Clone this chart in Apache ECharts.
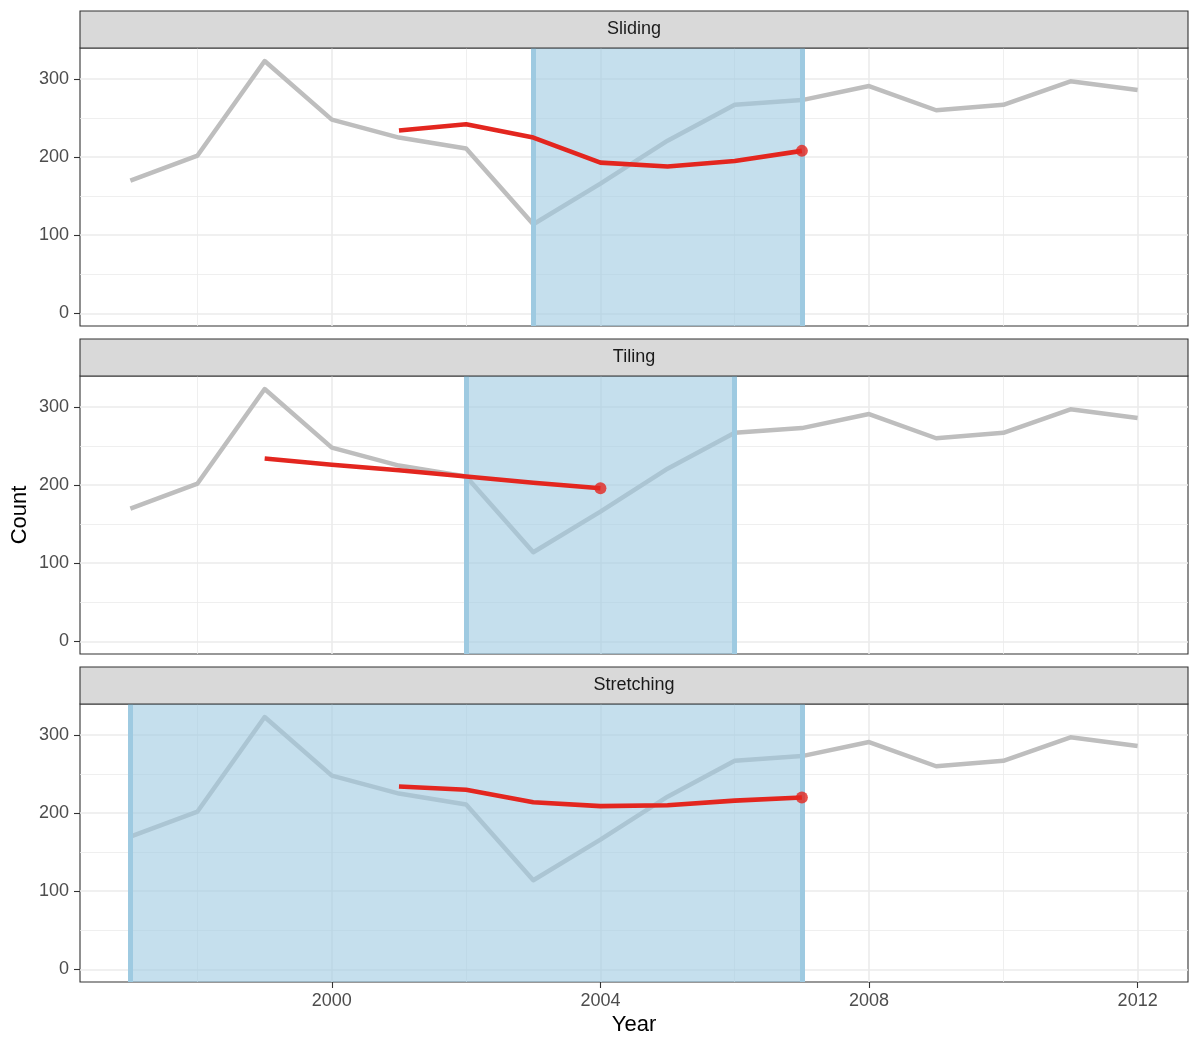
<!DOCTYPE html>
<html><head><meta charset="utf-8">
<script src="https://cdn.jsdelivr.net/npm/echarts@6/dist/echarts.min.js"></script>
<style>html,body{margin:0;padding:0;background:#fff}#c{width:1200px;height:1050px}</style>
</head><body><div id="c"></div>
<script>
// ---- data ----
const years = [1997,1998,1999,2000,2001,2002,2003,2004,2005,2006,2007,2008,2009,2010,2011,2012];
const overallCounts = [170,202,323,248,225,211,114,166,221,267,273,291,260,267,297,286];
const panelNames = ['Sliding','Tiling','Stretching'];
const slidingYears = [2001,2002,2003,2004,2005,2006,2007];
const slidingCounts = [234,242,225,193,188,195,208];
const tilingYears = [1999,2000,2001,2002,2003,2004];
const tilingCounts = [234,226,219,211,203,196];
const stretchingYears = [2001,2002,2003,2004,2005,2006,2007];
const stretchingCounts = [234,230,214,209,210,216,220];
const slidingWindow = [2003,2007];
const tilingWindow = [2002,2006];
const stretchingWindow = [1997,2007];
const yTicks = [0,100,200,300];
const yMinor = [50,150,250];
const xTicks = [2000,2004,2008,2012];
const xMinor = [1998,2002,2006,2010];

// ---- layout / style ----
const panelYears = [slidingYears, tilingYears, stretchingYears];
const panelCounts = [slidingCounts, tilingCounts, stretchingCounts];
const panelWindows = [slidingWindow, tilingWindow, stretchingWindow];
const FONT = '"Liberation Sans", Arial, Helvetica, sans-serif';
const LEFT = 80, WIDTH = 1108, H = 278, STRIP = 37;
const tops = [48, 376, 704];
const GRAY = '#BEBEBE', RED = '#E3261F', BLUE = '#9ECAE1';
const pairs = (xs, ys) => xs.map((x, k) => [x, ys[k]]);

const grid = [], xAxis = [], yAxis = [], series = [], graphic = [];
tops.forEach((top, i) => {
  const last = i === tops.length - 1;
  grid.push({left: LEFT, top: top, width: WIDTH, height: H, show: true,
    outerBoundsMode: 'none', containLabel: false,
    borderColor: '#333333', borderWidth: 1.1, backgroundColor: 'transparent'});
  xAxis.push({type: 'value', gridIndex: i, min: 1996.25, max: 2012.75, position: 'bottom',
    axisLine: {show: false, onZero: false}, splitLine: {show: false},
    axisTick: {show: last, customValues: xTicks, length: 6, lineStyle: {color: '#333', width: 1.1}},
    axisLabel: {show: last, customValues: xTicks, formatter: v => String(v), color: '#4D4D4D',
      fontSize: 18, fontFamily: FONT, margin: 10},
    name: last ? 'Year' : '', nameLocation: 'middle', nameGap: 32, nameMoveOverlap: false,
    nameTextStyle: {fontSize: 22, color: '#000', fontFamily: FONT}});
  yAxis.push({type: 'value', gridIndex: i, min: -16.2, max: 339.7, position: 'left',
    axisLine: {show: false, onZero: false}, splitLine: {show: false},
    axisTick: {show: true, customValues: yTicks, length: 6, lineStyle: {color: '#333', width: 1.1}},
    axisLabel: {show: true, customValues: yTicks, color: '#4D4D4D', fontSize: 18, fontFamily: FONT, margin: 11},
    name: i === 1 ? 'Count' : '', nameLocation: 'middle', nameGap: 49, nameMoveOverlap: false,
    nameTextStyle: {fontSize: 22, color: '#000', fontFamily: FONT}});
  const gl = (w) => ({color: '#EBEBEB', width: w, type: 'solid'});
  series.push({type: 'line', xAxisIndex: i, yAxisIndex: i, data: [], z: 0, silent: true,
    markLine: {silent: true, z: 0, symbol: ['none','none'], label: {show: false}, animation: false,
      data: [
        ...yMinor.map(v => ({yAxis: v, lineStyle: gl(0.8)})),
        ...xMinor.map(v => ({xAxis: v, lineStyle: gl(0.8)})),
        ...yTicks.map(v => ({yAxis: v, lineStyle: gl(1.6)})),
        ...xTicks.map(v => ({xAxis: v, lineStyle: gl(1.6)}))
      ]}});
  series.push({type: 'line', xAxisIndex: i, yAxisIndex: i, z: 1, silent: true,
    data: pairs(years, overallCounts), symbol: 'none',
    lineStyle: {color: GRAY, width: 4.5, join: 'round', cap: 'butt'}});
  series.push({type: 'line', xAxisIndex: i, yAxisIndex: i, data: [], z: 2, silent: true,
    markArea: {silent: true, z: 2, animation: false,
      itemStyle: {color: 'rgba(158,202,225,0.6)', borderWidth: 0},
      data: [[{xAxis: panelWindows[i][0]}, {xAxis: panelWindows[i][1]}]]},
    markLine: {silent: true, z: 2, symbol: ['none','none'], label: {show: false}, animation: false,
      lineStyle: {color: BLUE, width: 5, type: 'solid'},
      data: panelWindows[i].map(v => ({xAxis: v}))}});
  series.push({type: 'line', xAxisIndex: i, yAxisIndex: i, z: 3, silent: true,
    data: pairs(panelYears[i], panelCounts[i]), symbol: 'none',
    lineStyle: {color: RED, width: 4.6, join: 'round', cap: 'butt'}});
  const n = panelYears[i].length - 1;
  series.push({type: 'scatter', xAxisIndex: i, yAxisIndex: i, z: 4, silent: true,
    data: [[panelYears[i][n], panelCounts[i][n]]], symbol: 'circle', symbolSize: 12,
    itemStyle: {color: RED}});
  graphic.push({type: 'rect', shape: {x: LEFT, y: top - STRIP, width: WIDTH, height: STRIP},
    style: {fill: '#D9D9D9', stroke: '#333333', lineWidth: 1.1}, z: 10});
  graphic.push({type: 'text', x: LEFT + WIDTH / 2, y: top - STRIP / 2, z: 11,
    style: {text: panelNames[i], font: '18px ' + FONT, fill: '#1A1A1A',
      textAlign: 'center', textVerticalAlign: 'middle'}});
});

const chart = echarts.init(document.getElementById('c'), null, {renderer: 'canvas'});
chart.setOption({animation: false, backgroundColor: '#ffffff', grid, xAxis, yAxis, series, graphic});
</script>
</body></html>
